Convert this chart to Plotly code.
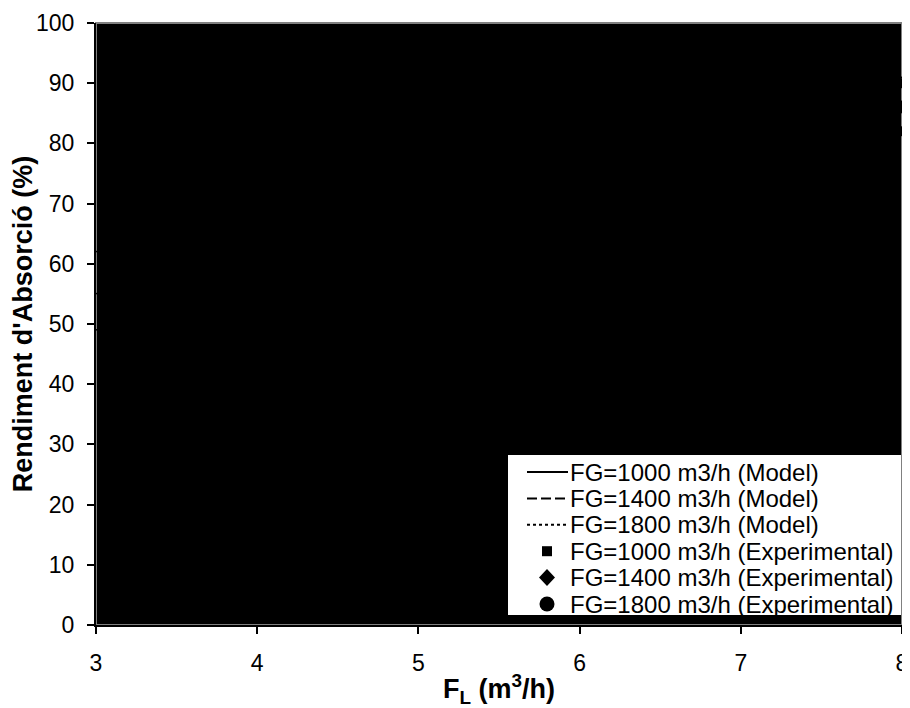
import plotly.graph_objects as go

# ---- data (read /; model curves hidden on black background) ----
fl_model = [3, 4, 5, 6, 7, 8]
model_1000 = [62, 72, 79, 84, 88, 91]
model_1400 = [55, 65, 73, 79, 83, 87]
model_1800 = [49, 59, 67, 74, 79, 83]

fl_exp = [3.5, 5.0, 6.5, 8.0]
exp_1000 = [66, 79, 86, 90]
exp_1400 = [60, 72, 81, 86]
exp_1800 = [53, 66, 76, 82]

series_names = [
    "FG=1000 m3/h (Model)",
    "FG=1400 m3/h (Model)",
    "FG=1800 m3/h (Model)",
    "FG=1000 m3/h (Experimental)",
    "FG=1400 m3/h (Experimental)",
    "FG=1800 m3/h (Experimental)",
]

x_ticks = [3, 4, 5, 6, 7, 8]
y_ticks = [0, 10, 20, 30, 40, 50, 60, 70, 80, 90, 100]

FONT = "Arial, Liberation Sans, sans-serif"

fig = go.Figure()
for yv, dash, name in zip([model_1000, model_1400, model_1800], ["solid", "dash", "dot"], series_names[:3]):
    fig.add_trace(go.Scatter(x=fl_model, y=yv, mode="lines", name=name,
                             line=dict(color="black", width=1.5, dash=dash), showlegend=False))
for yv, sym, name in zip([exp_1000, exp_1400, exp_1800], ["square", "diamond", "circle"], series_names[3:]):
    fig.add_trace(go.Scatter(x=fl_exp, y=yv, mode="markers", name=name,
                             marker=dict(color="black", size=10, symbol=sym), showlegend=False))

# page offset (default body margin) and plot geometry in page pixels
OFF = 8
FW, FH = 910 - OFF, 708 - OFF
L, R, T, B = 96, 902, 23, 625
W, H = R - L, B - T
def px(x):
    return (x - L) / W
def py(y):
    return (B - y) / H

shapes = []
# grey frame (top / right), drawn below axis lines
shapes.append(dict(type="rect", xref="paper", yref="paper", x0=0, x1=1, y0=0, y1=1,
                   line=dict(color="#808080", width=2), layer="below"))
# legend box
shapes.append(dict(type="rect", xref="paper", yref="paper",
                   x0=px(508), x1=px(901), y0=py(615), y1=py(455),
                   fillcolor="white", line=dict(width=0), layer="above"))

row_y = [472 + 26.4 * i for i in range(6)]
line_dashes = ["solid", "10px,4px", "3px,3px"]
for i in range(3):
    shapes.append(dict(type="line", xref="paper", yref="paper",
                       x0=px(527), x1=px(568), y0=py(row_y[i]), y1=py(row_y[i]),
                       line=dict(color="black", width=2, dash=line_dashes[i]), layer="above"))
mx = px(547)
# square
shapes.append(dict(type="rect", xref="paper", yref="paper", xsizemode="pixel", ysizemode="pixel",
                   xanchor=mx, yanchor=py(row_y[3]), x0=-5, x1=5, y0=-5, y1=5,
                   fillcolor="black", line=dict(width=0), layer="above"))
# diamond
shapes.append(dict(type="path", xref="paper", yref="paper", xsizemode="pixel", ysizemode="pixel",
                   xanchor=mx, yanchor=py(row_y[4]), path="M 0 8.5 L 8 0 L 0 -8.5 L -8 0 Z",
                   fillcolor="black", line=dict(width=0), layer="above"))
# circle
shapes.append(dict(type="circle", xref="paper", yref="paper", xsizemode="pixel", ysizemode="pixel",
                   xanchor=mx, yanchor=py(row_y[5]), x0=-7.5, x1=7.5, y0=-7.5, y1=7.5,
                   fillcolor="black", line=dict(width=0), layer="above"))

annotations = []
for i, name in enumerate(series_names):
    annotations.append(dict(xref="paper", yref="paper", x=px(568), y=py(row_y[i]),
                            xanchor="left", yanchor="middle", text=name, showarrow=False,
                            font=dict(family=FONT, size=24, color="black")))

fig.update_layout(
    width=FW, height=FH,
    margin=dict(l=L - OFF, r=910 - R, t=T - OFF, b=708 - B, pad=0, autoexpand=False),
    paper_bgcolor="white", plot_bgcolor="black",
    showlegend=False,
    font=dict(family=FONT, size=22, color="black"),
    shapes=shapes, annotations=annotations,
)
fig.update_xaxes(range=[3, 8], tickvals=x_ticks, ticks="outside", ticklen=7, tickwidth=2,
                 tickcolor="black", showline=True, linecolor="black", linewidth=2,
                 showgrid=False, zeroline=False, ticklabelstandoff=9, automargin=False,
                 ticklabeloverflow="allow",
                 tickfont=dict(family=FONT, size=23, color="black"),
                 title=dict(text="<b>F<sub>L</sub> (m<sup>3</sup>/h)</b>", standoff=7,
                            font=dict(family=FONT, size=27, color="black")))
fig.update_yaxes(range=[0, 100], tickvals=y_ticks, ticks="outside", ticklen=7, tickwidth=2,
                 tickcolor="black", showline=True, linecolor="black", linewidth=2,
                 showgrid=False, zeroline=False, ticklabelstandoff=8, automargin=False,
                 tickfont=dict(family=FONT, size=23, color="black"),
                 title=dict(text="<b>Rendiment d'Absorció (%)</b>", standoff=1,
                            font=dict(family=FONT, size=27, color="black")))

fig.write_html("out.html")
